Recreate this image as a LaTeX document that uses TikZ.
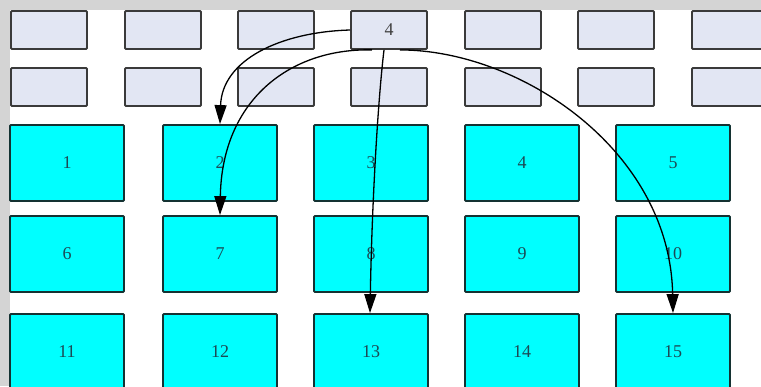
\documentclass[tikz,border=0pt]{standalone}
\usepackage{fontspec}
\setmainfont{Liberation Serif}
\usetikzlibrary{arrows.meta}
\definecolor{bggray}{HTML}{D4D4D4}
\definecolor{lav}{HTML}{E2E6F3}
\definecolor{lavedge}{HTML}{3A3A3A}
\definecolor{cyanfill}{HTML}{00FFFF}
\definecolor{cyanedge}{HTML}{143232}
\definecolor{cyantext}{HTML}{1C4A55}
\tikzset{
  topbox/.style={draw=lavedge, fill=lav, line width=1.8pt, rounded corners=1pt,
    minimum width=76pt, minimum height=38pt, inner sep=0pt, text=black!75,
    font=\fontsize{18}{18}\selectfont},
  cellbox/.style={draw=cyanedge, fill=cyanfill, line width=1.8pt, rounded corners=1pt,
    minimum width=114pt, minimum height=76pt, inner sep=0pt, text=cyantext,
    font=\fontsize{18}{18}\selectfont},
  link/.style={draw=black, line width=1.3pt, -{Triangle[length=19pt,width=12pt]}}
}
\begin{document}
\begin{tikzpicture}[x=1pt,y=-1pt]
\useasboundingbox (0,0) rectangle (761,386);
\clip (0,0) rectangle (761,386);
\fill[bggray] (0,0) rectangle (761,386);
\fill[white] (10,10) rectangle (761,386);
% top rows
\foreach \i/\x in {1/49,2/163,3/276,5/503,6/616,7/730}{
  \node[topbox] (t\i) at (\x,30) {};
}
\node[topbox] (t4) at (389,30) {4};
\foreach \i/\x in {1/49,2/163,3/276,4/389,5/503,6/616,7/730}{
  \node[topbox] (u\i) at (\x,87) {};
}
% cyan grid
\foreach \n/\x/\y in {1/67/163,2/220/163,3/371/163,4/522/163,5/673/163,
                      6/67/254,7/220/254,8/371/254,9/522/254,10/673/254,
                      11/67/352,12/220/352,13/371/352,14/522/352,15/673/352}{
  \node[cellbox] (c\n) at (\x,\y) {\n};
}
% connectors
\draw[link] (t4.west) .. controls (280,32) and (222,60) .. (c2.north);
\draw[link] ([xshift=-17pt]t4.south) .. controls (290,48) and (222,100) .. (c7.north);
\draw[link] ([xshift=-5pt]t4.south) .. controls (378,100) and (372,200) .. ([xshift=-1pt]c13.north);
\draw[link] ([xshift=11pt]t4.south) .. controls (520,50) and (670,150) .. (c15.north);
\end{tikzpicture}
\end{document}
